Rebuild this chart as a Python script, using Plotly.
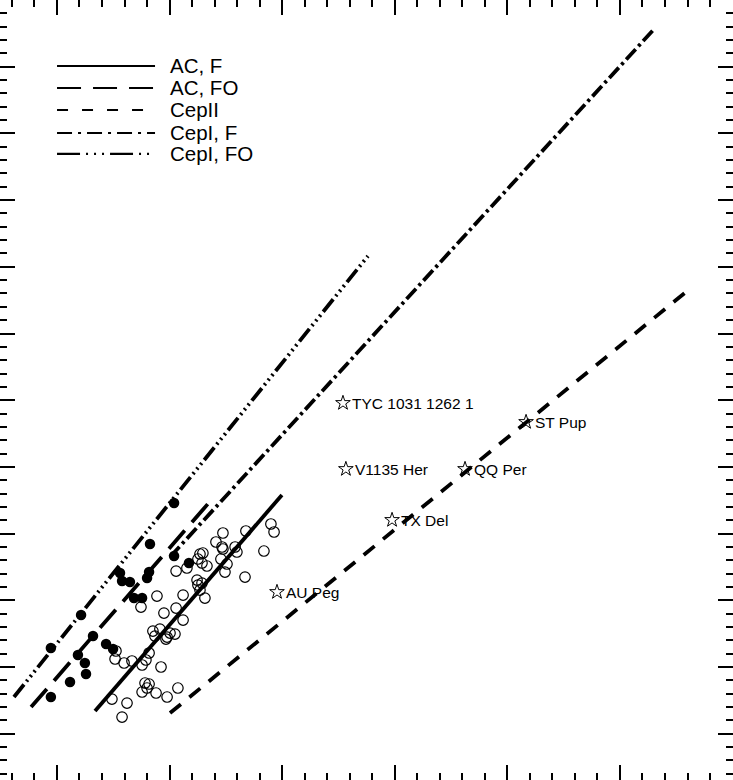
import plotly.graph_objects as go

# period-luminosity relations: log P endpoints and M endpoints of each line
rel_names = ["AC, F", "AC, FO", "CepII", "CepI, F", "CepI, FO"]
rel_logp = [[-0.331, 0.499], [-0.615, 0.193], [0.002, 2.320], [0.002, 2.156], [-0.691, 0.881]]
rel_mag = [[1.660, -1.579], [1.600, -1.534], [1.690, -4.697], [-0.649, -8.580], [1.450, -5.162]]

# open circles (fundamental mode)
open_logp = [-0.256, -0.189, -0.211, -0.238, -0.242, -0.202, -0.167, -0.122, -0.105, -0.091,
             -0.038, -0.109, -0.091, -0.100, -0.122, -0.060, -0.011, 0.037, -0.074, -0.065,
             -0.043, -0.016, 0.002, 0.024, -0.011, -0.025, 0.029, 0.060, -0.056, 0.060,
             -0.127, 0.029, 0.077, 0.122, 0.126, 0.144, 0.135, 0.157, 0.126, 0.135,
             0.148, 0.144, 0.166, 0.228, 0.255, 0.246, 0.206, 0.233, 0.237, 0.237,
             0.291, 0.299, 0.339, 0.335, 0.450, 0.464, 0.419]
open_mag = [1.480, 1.540, 1.750, 0.760, 0.880, 0.940, 0.910, 0.970, 0.895, 0.790,
            1.000, 1.240, 1.255, 1.315, 1.375, 1.390, 1.450, 1.315, 0.461, 0.536,
            0.431, 0.581, 0.491, 0.506, 0.551, 0.191, 0.116, 0.296, -0.064, -0.079,
            0.101, -0.439, -0.484, -0.304, -0.229, -0.259, -0.154, -0.034, -0.619, -0.694,
            -0.709, -0.559, -0.514, -0.619, -0.544, -0.424, -0.874, -0.799, -0.769, -1.009,
            -0.799, -0.724, -1.039, -0.349, -1.144, -1.024, -0.739]

# filled circles (first overtone)
fill_logp = [-0.527, -0.442, -0.407, -0.371, -0.376, -0.340, -0.527, -0.393, -0.282, -0.251,
             -0.220, -0.211, -0.176, -0.158, -0.122, -0.087, -0.100, -0.091, 0.020, 0.086, 0.020]
fill_mag = [1.450, 1.225, 0.820, 1.105, 0.940, 0.536, 0.715, 0.221, 0.655, 0.730,
            -0.409, -0.289, -0.274, -0.034, -0.034, -0.844, -0.334, -0.424, -1.459, -0.559, -0.664]

# named stars
star_names = ["TYC 1031 1262 1", "ST Pup", "V1135 Her", "QQ Per", "TX Del", "AU Peg"]
star_logp = [0.770, 1.583, 0.783, 1.312, 0.988, 0.477]
star_mag = [-2.958, -2.673, -1.968, -1.968, -1.204, -0.124]

plot_dash = ["solid", "24px,11px", "14px,11px", "14px,4px,3px,4px",
             "16px,4px,2px,4px,2px,4px,2px,4px"]
leg_dash = ["solid", "24px,12px", "11px,14px", "15px,6px,3px,6px",
            "23px,6px,2px,6px,2px,6px,2px,6px"]

x_range = [-0.753, 2.502]
y_range = [2.694, -9.0]

fig = go.Figure()

for i in range(len(rel_names)):
    fig.add_trace(go.Scatter(x=rel_logp[i], y=rel_mag[i], mode="lines",
                             line=dict(color="black", width=3.8, dash=plot_dash[i]),
                             name=rel_names[i]))

fig.add_trace(go.Scatter(x=open_logp, y=open_mag, mode="markers",
                         marker=dict(symbol="circle-open", size=10.5, color="black",
                                     line=dict(width=1.2))))
fig.add_trace(go.Scatter(x=fill_logp, y=fill_mag, mode="markers",
                         marker=dict(symbol="circle", size=10.5, color="black")))
# stars go on the top/right axes (same ranges) so that those get drawn with ticks
fig.add_trace(go.Scatter(x=star_logp, y=star_mag, mode="markers",
                         xaxis="x2", yaxis="y2",
                         marker=dict(symbol="star-open", size=11, color="black",
                                     line=dict(width=1))))

for name, xv, yv in zip(star_names, star_logp, star_mag):
    fig.add_annotation(x=xv, y=yv, text=name, showarrow=False, xanchor="left",
                       yanchor="middle", xshift=7,
                       font=dict(family="Liberation Sans", size=15.5, color="black"))

# hand-made legend in the top left corner
leg_y = [0.9154, 0.8872, 0.8590, 0.8295, 0.8026]
for name, dash, yy in zip(rel_names, leg_dash, leg_y):
    fig.add_shape(type="line", xref="paper", yref="paper", x0=0.0778, x1=0.2115,
                  y0=yy, y1=yy, line=dict(color="black", width=2.2, dash=dash))
    fig.add_annotation(xref="paper", yref="paper", x=0.2290, y=yy, text=name,
                       showarrow=False, xanchor="left", yanchor="middle",
                       font=dict(family="Liberation Sans", size=20.5, color="black"))

axis_style = dict(showgrid=False, zeroline=False, showticklabels=False,
                  showline=True, linecolor="black", linewidth=2,
                  ticks="inside", ticklen=15, tickwidth=1.5, tickcolor="black")
x_minor = dict(dtick=0.1, ticks="inside", ticklen=7, tickwidth=1.5,
               tickcolor="black", showgrid=False)
y_minor = dict(dtick=0.2, ticks="inside", ticklen=7, tickwidth=1.5,
               tickcolor="black", showgrid=False)

fig.update_layout(
    width=733, height=780, margin=dict(l=0, r=0, t=0, b=0),
    showlegend=False, plot_bgcolor="white", paper_bgcolor="white",
    xaxis=dict(range=x_range, tick0=0, dtick=0.5, minor=x_minor, **axis_style),
    xaxis2=dict(range=x_range, tick0=0, dtick=0.5, minor=x_minor,
                overlaying="x", side="top", **axis_style),
    yaxis=dict(range=y_range, tick0=0, dtick=1, minor=y_minor, **axis_style),
    yaxis2=dict(range=y_range, tick0=0, dtick=1, minor=y_minor,
                overlaying="y", side="right", **axis_style),
)

fig.write_html("out.html", config={"displayModeBar": False},
               post_script="document.body.style.margin='0px';")
